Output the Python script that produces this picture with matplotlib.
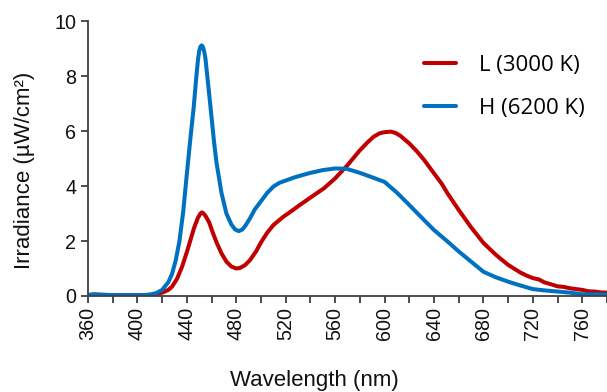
import matplotlib
matplotlib.use("Agg")
import matplotlib.pyplot as plt
from matplotlib.ticker import MultipleLocator

# Wavelength (nm) and irradiance (µW/cm²)
wl_L = [360, 365, 370, 380, 390, 400, 405, 410, 415, 420, 425, 428, 432, 436, 440, 443, 446, 449, 451, 452, 453, 455,
        458, 461, 464, 468, 472, 476, 480, 483, 487, 491, 496, 500, 505, 510, 518, 525, 532, 540, 551,
        560, 570, 580, 586, 591, 596, 600, 605, 609, 613, 620, 626, 632, 640, 646, 651, 660, 670, 680,
        690, 700, 710, 715, 720, 725, 729, 735, 740, 745, 750, 755, 760, 765, 770, 775, 780]
irr_L = [0.03, 0.05, 0.04, 0.03, 0.03, 0.03, 0.03, 0.04, 0.07, 0.12, 0.22, 0.34, 0.62, 1.05, 1.6, 2.05, 2.5, 2.85, 3.0, 3.04, 3.02, 2.92,
         2.68, 2.3, 1.95, 1.55, 1.25, 1.07, 1.0, 1.02, 1.12, 1.3, 1.62, 1.95, 2.3, 2.58, 2.88, 3.1, 3.33, 3.58, 3.92,
         4.28, 4.76, 5.3, 5.58, 5.79, 5.92, 5.96, 5.98, 5.93, 5.82, 5.55, 5.27, 4.95, 4.46, 4.1, 3.73, 3.13, 2.5, 1.93,
         1.5, 1.13, 0.85, 0.74, 0.65, 0.6, 0.5, 0.42, 0.35, 0.33, 0.28, 0.25, 0.22, 0.17, 0.16, 0.13, 0.12]

wl_H = [360, 365, 370, 380, 390, 400, 405, 410, 415, 420, 425, 428, 431, 434, 437, 440, 443, 445.5, 447.5, 449, 450, 451, 452, 453,
        454, 455, 457, 459.3, 462, 464, 468, 472, 476, 479, 482, 485, 488, 491, 495, 500, 505, 510, 515, 520, 526, 532,
        540, 550, 560, 569, 580, 591, 600, 610, 620, 632, 640, 651, 660, 670, 680, 690, 700, 710, 720,
        730, 740, 750, 760, 770, 780]
irr_H = [0.04, 0.06, 0.05, 0.03, 0.03, 0.03, 0.03, 0.05, 0.1, 0.22, 0.5, 0.8, 1.3, 2.0, 3.05, 4.45, 5.8, 6.85, 7.9, 8.6, 8.92, 9.07, 9.12, 9.06,
         8.9, 8.65, 7.8, 6.8, 5.6, 4.85, 3.75, 3.0, 2.6, 2.42, 2.36, 2.42, 2.6, 2.82, 3.15, 3.45, 3.75, 3.98, 4.12, 4.2, 4.3, 4.38,
         4.48, 4.58, 4.64, 4.63, 4.48, 4.3, 4.15, 3.76, 3.31, 2.76, 2.4, 1.98, 1.62, 1.25, 0.88, 0.68, 0.52, 0.38, 0.25,
         0.2, 0.16, 0.12, 0.06, 0.06, 0.05]

labels = ["L (3000 K)", "H (6200 K)"]
colors = ["#C00000", "#0070C0"]

plt.rcParams['font.family'] = ['Liberation Sans', 'DejaVu Sans']

fig = plt.figure(figsize=(6.07, 3.92), dpi=100)
ax = fig.add_axes([0.145, 0.245, 0.855, 0.701])

ax.plot(wl_L, irr_L, color=colors[0], lw=2.9, label=labels[0], solid_capstyle='round', solid_joinstyle='round')
ax.plot(wl_H, irr_H, color=colors[1], lw=2.9, label=labels[1], solid_capstyle='round', solid_joinstyle='round')

ax.set_xlim(360, 780)
ax.set_ylim(0, 10)
ax.xaxis.set_major_locator(MultipleLocator(40))
ax.xaxis.set_minor_locator(MultipleLocator(20))
ax.yaxis.set_major_locator(MultipleLocator(2))

spine_c = "#404040"
for s in ["top", "right"]:
    ax.spines[s].set_visible(False)
for s in ["left", "bottom"]:
    ax.spines[s].set_color(spine_c)
    ax.spines[s].set_linewidth(1.3)

ax.tick_params(axis='both', which='both', direction='out', length=5, width=1.3, color=spine_c,
               labelsize=14.2, labelcolor='#111111')
ax.tick_params(axis='x', which='major', labelrotation=90, pad=3)

ax.set_xlabel("Wavelength (nm)", fontsize=16, color='#111111')
ax.xaxis.set_label_coords(0.437, -0.27)
ax.set_ylabel("Irradiance (µW/cm²)", fontsize=16, color='#111111')
ax.yaxis.set_label_coords(-0.102, 0.458)

leg = ax.legend(loc='upper right', bbox_to_anchor=(0.995, 0.95), frameon=False,
                prop={'family': 'Open Sans', 'size': 16}, handlelength=1.4, handletextpad=1.04,
                labelspacing=0.98)

fig.savefig("out.png", dpi=100)
